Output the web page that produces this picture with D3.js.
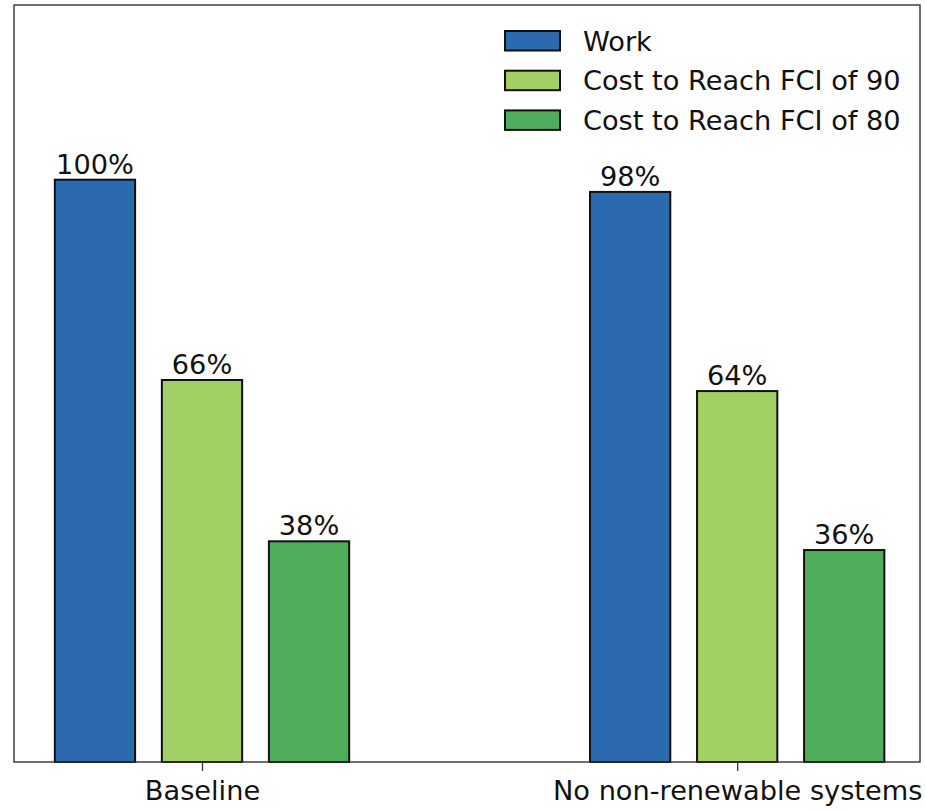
<!DOCTYPE html>
<html>
<head>
<meta charset="utf-8">
<script src="https://cdn.jsdelivr.net/npm/d3@7"></script>
<style>
  html, body { margin: 0; padding: 0; background: #fff; }
  svg { display: block; font-family: "DejaVu Sans", sans-serif; }
</style>
</head>
<body>
<svg id="chart" width="925" height="810"></svg>
<script>
// ---- data ----
const categories = ["Baseline", "No non-renewable systems"];
const seriesNames = ["Work", "Cost to Reach FCI of 90", "Cost to Reach FCI of 80"];
const workValues = [100, 97.9];
const fci90Values = [65.6, 63.7];
const fci80Values = [37.9, 36.4];
const workLabels = ["100%", "98%"];
const fci90Labels = ["66%", "64%"];
const fci80Labels = ["38%", "36%"];
const seriesColors = ["#2c6ab0", "#a1d064", "#4fad5b"];

const seriesValues = [workValues, fci90Values, fci80Values];
const seriesLabels = [workLabels, fci90Labels, fci80Labels];

// ---- layout ----
const plot = { left: 14, right: 920, top: 5, bottom: 762 };
const barOffsets = [-0.2, 0, 0.2];
const barWidth = 0.15;
const fontSize = "27.2px";

const svg = d3.select("#chart");

const x = d3.scaleLinear().domain([-0.3513, 1.3416]).range([plot.left, plot.right]);
const y = d3.scaleLinear().domain([0, 130]).range([plot.bottom, plot.top]);

// bars
seriesValues.forEach((vals, si) => {
  const g = svg.append("g");
  g.selectAll("rect")
    .data(vals)
    .join("rect")
    .attr("x", (d, i) => x(i + barOffsets[si] - barWidth / 2))
    .attr("width", (d, i) => x(i + barOffsets[si] + barWidth / 2) - x(i + barOffsets[si] - barWidth / 2))
    .attr("y", d => y(d))
    .attr("height", d => y(0) - y(d))
    .attr("fill", seriesColors[si])
    .attr("stroke", "#111")
    .attr("stroke-width", 2);
  g.selectAll("text")
    .data(vals)
    .join("text")
    .attr("x", (d, i) => x(i + barOffsets[si]))
    .attr("y", d => y(d) - 6)
    .attr("text-anchor", "middle")
    .attr("font-size", fontSize)
    .attr("fill", "#111")
    .text((d, i) => seriesLabels[si][i]);
});

// x axis
const xAxis = d3.axisBottom(x)
  .tickValues(categories.map((c, i) => i))
  .tickFormat(i => categories[i])
  .tickSize(9)
  .tickSizeOuter(0)
  .tickPadding(10);
const ax = svg.append("g")
  .attr("transform", `translate(0,${plot.bottom})`)
  .call(xAxis);
ax.select(".domain").remove();
ax.selectAll(".tick line").attr("stroke", "#333").attr("stroke-width", 1.3);
ax.selectAll(".tick text")
  .attr("font-family", "DejaVu Sans, sans-serif")
  .attr("font-size", fontSize)
  .attr("fill", "#111");

// frame
svg.append("rect")
  .attr("x", plot.left)
  .attr("y", plot.top)
  .attr("width", plot.right - plot.left)
  .attr("height", plot.bottom - plot.top)
  .attr("fill", "none")
  .attr("stroke", "#333")
  .attr("stroke-width", 1.4);

// legend
const legend = svg.append("g").attr("transform", "translate(505,31)");
seriesNames.forEach((name, i) => {
  const row = legend.append("g").attr("transform", `translate(0,${i * 39.7})`);
  row.append("rect")
    .attr("x", 0).attr("y", 0)
    .attr("width", 55).attr("height", 19.5)
    .attr("fill", seriesColors[i])
    .attr("stroke", "#111")
    .attr("stroke-width", 2);
  row.append("text")
    .attr("x", 78)
    .attr("y", 19.5)
    .attr("font-size", fontSize)
    .attr("fill", "#111")
    .text(name);
});
</script>
</body>
</html>
